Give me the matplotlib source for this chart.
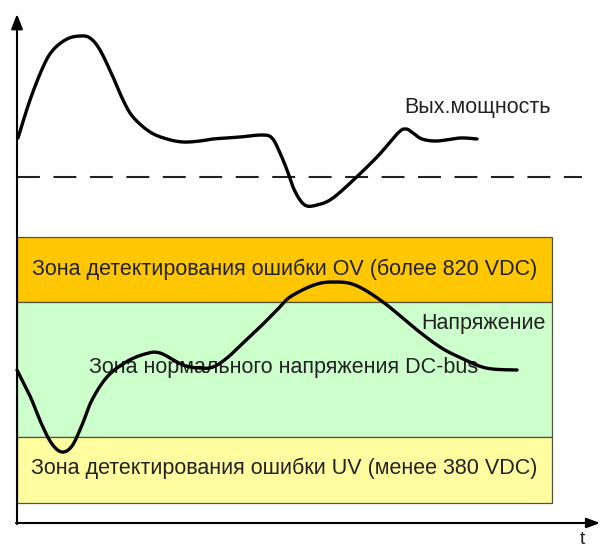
import numpy as np
import matplotlib
matplotlib.use('Agg')
import matplotlib.pyplot as plt
from matplotlib.patches import Rectangle

plt.rcParams['font.family'] = ['Liberation Sans', 'DejaVu Sans']

# picture coordinates (x to the right, y downward)
power_x = [18, 30, 43, 53, 67, 80, 90, 100, 113, 123, 133, 150, 167, 183, 200, 213, 240,
           262, 272, 280, 287, 293, 300, 307, 317, 330, 347, 377, 398, 406, 413, 422, 437,
           460, 477]
power_y = [138, 100, 67, 50, 39, 36, 38, 50, 77, 100, 117, 132, 139, 142, 141, 139, 137,
           135, 138, 153, 170, 187, 200, 206, 205, 200, 186, 157, 133, 129, 133, 139, 141,
           138, 139]

volt_x = [17, 30, 42, 52, 62, 72, 82, 92, 107, 126, 145, 160, 183, 200, 213, 227, 243,
          260, 277, 290, 314, 333, 355, 383, 417, 440, 459, 486, 517]
volt_y = [370, 396, 425, 444, 452, 446, 425, 400, 377, 362, 354, 353, 365, 368, 367, 358,
          343, 327, 310, 297, 285, 282, 285, 302, 330, 347, 357, 368, 370]

threshold_y = 177

zone_names = ['Зона детектирования ошибки OV (более 820 VDC)',
              'Зона нормального напряжения DC-bus',
              'Зона детектирования ошибки UV (менее 380 VDC)']
zone_top = [237, 302, 437]
zone_bottom = [302, 437, 503]
zone_colors = ['#FFC602', '#CCFFCC', '#FFFD9F']
zone_text_y = [269, 368, 468]


def smooth(xs, ys, n=20):
    # Catmull-Rom through the read points, just for a smooth stroke
    p = np.column_stack([xs, ys]).astype(float)
    p = np.vstack([p[0], p, p[-1]])
    out = []
    t = np.linspace(0, 1, n, endpoint=False)
    for i in range(1, len(p) - 2):
        p0, p1, p2, p3 = p[i - 1], p[i], p[i + 1], p[i + 2]
        tt = t[:, None]
        seg = 0.5 * ((2 * p1) + (-p0 + p2) * tt + (2 * p0 - 5 * p1 + 4 * p2 - p3) * tt ** 2
                     + (-p0 + 3 * p1 - 3 * p2 + p3) * tt ** 3)
        out.append(seg)
    out.append(p[-2][None, :])
    out = np.vstack(out)
    return out[:, 0], out[:, 1]


fig = plt.figure(figsize=(6.0, 5.46), dpi=100)
ax = fig.add_axes([0, 0, 1, 1])
ax.set_xlim(0, 600)
ax.set_ylim(546, 0)
ax.axis('off')

txt_col = '#222222'
fs = 15.5

# zones
for name, top, bot, col, ty in zip(zone_names, zone_top, zone_bottom, zone_colors, zone_text_y):
    ax.add_patch(Rectangle((17, top), 552 - 17, bot - top, facecolor=col,
                           edgecolor='#55553f', lw=0.9, zorder=1))

ax.text(285, zone_text_y[0], zone_names[0], ha='center', va='center', fontsize=fs,
        color=txt_col, zorder=2)
ax.text(284, zone_text_y[2], zone_names[2], ha='center', va='center', fontsize=fs,
        color=txt_col, zorder=2)
ax.text(284, zone_text_y[1], zone_names[1], ha='center', va='center', fontsize=fs,
        color=txt_col, zorder=2)

# threshold dashed line
ax.plot([17, 582], [threshold_y, threshold_y], color='#222222', lw=1.5,
        dashes=(11, 6.5), zorder=3)

# curves
sx, sy = smooth(power_x, power_y)
ax.plot(sx, sy, color='black', lw=2.4, solid_capstyle='round', zorder=4)
vx, vy = smooth(volt_x, volt_y)
ax.plot(vx, vy, color='black', lw=2.4, solid_capstyle='round', zorder=4)

ax.text(551, 107, 'Вых.мощность', ha='right', va='center', fontsize=fs, color=txt_col)
ax.text(546, 324, 'Напряжение', ha='right', va='center', fontsize=fs, color=txt_col)

# axes with arrows
ax.annotate('', xy=(17, 14), xytext=(17, 524),
            arrowprops=dict(arrowstyle='-|>,head_length=0.9,head_width=0.35',
                            lw=1.5, color='black', shrinkA=0, shrinkB=0), zorder=5)
ax.annotate('', xy=(600, 523), xytext=(16, 523),
            arrowprops=dict(arrowstyle='-|>,head_length=0.8,head_width=0.3',
                            lw=1.5, color='black', shrinkA=0, shrinkB=0), zorder=5)
ax.text(582, 539, 't', ha='center', va='center', fontsize=14, color=txt_col)

fig.savefig('out.png', dpi=100)
